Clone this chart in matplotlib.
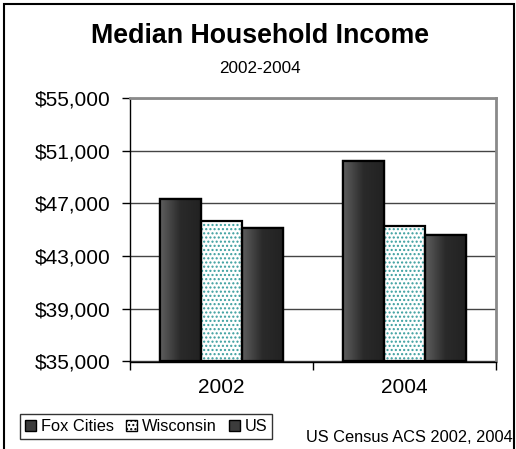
import numpy as np
import matplotlib.pyplot as plt
from matplotlib.patches import Rectangle, Patch
from matplotlib.colors import LinearSegmentedColormap

plt.rcParams['font.family'] = ['Liberation Sans', 'DejaVu Sans']

years = ['2002', '2004']
series = ['Fox Cities', 'Wisconsin', 'US']
fox_cities = [47300, 50200]
wisconsin = [45700, 45300]
us = [45100, 44600]
yticks = [35000, 39000, 43000, 47000, 51000, 55000]
source = 'US Census ACS 2002, 2004'

W, H = 516, 449
fig = plt.figure(figsize=(W / 100, H / 100), dpi=100)
ax = fig.add_axes([130 / W, 1 - 361.5 / H, 366 / W, 263.5 / H])

x = np.arange(len(years))
w = 0.224
base = yticks[0]  # bars start at the axis floor
dark = LinearSegmentedColormap.from_list('dark', ['#5e5e5e', '#2a2a2a', '#222222'])
grad = np.linspace(0, 1, 64).reshape(1, -1)
teal = '#3a9e9e'

# dark bars with a left-to-right shade
for vals, off in [(fox_cities, -w), (us, w)]:
    bars = ax.bar(x + off, np.array(vals) - base, w, bottom=base, color='#3a3a3a',
                  edgecolor='black', linewidth=1.6, zorder=2)
    for b in bars:
        x0, y0 = b.get_x(), b.get_y()
        im = ax.imshow(grad, cmap=dark, aspect='auto', zorder=2.5,
                       extent=[x0, x0 + b.get_width(), y0, y0 + b.get_height()])
        im.set_clip_path(b)
        ax.add_patch(Rectangle((x0, y0), b.get_width(), b.get_height(), fill=False,
                               edgecolor='black', linewidth=1.6, zorder=3))

# dotted Wisconsin bars
ax.bar(x, np.array(wisconsin) - base, w, bottom=base, color='white', edgecolor=teal,
       hatch='....', linewidth=0, zorder=2)
ax.bar(x, np.array(wisconsin) - base, w, bottom=base, fill=False, edgecolor='black',
       linewidth=1.6, zorder=3)

ax.set_xlim(-0.5, 1.5)
ax.set_ylim(35000, 55000)
ax.set_yticks(yticks)
ax.set_yticklabels(['${:,.0f}'.format(v) for v in yticks])
ax.yaxis.grid(True, color='#444444', linewidth=1)
ax.set_axisbelow(True)

ax.set_xticks([-0.5, 0.5, 1.5])
ax.set_xticklabels([])
ax.set_xticks(x, minor=True)
ax.set_xticklabels(years, minor=True)
ax.tick_params(axis='x', which='major', length=6, width=1, direction='out')
ax.tick_params(axis='x', which='minor', length=0, pad=12, labelsize=15)
ax.tick_params(axis='y', length=6, width=1, pad=8, labelsize=15)

for s in ['top', 'right']:
    ax.spines[s].set_color('#8a8a8a')
    ax.spines[s].set_linewidth(2)
for s in ['left', 'bottom']:
    ax.spines[s].set_color('black')
    ax.spines[s].set_linewidth(1)

fig.text(0.504, 1 - 36 / H, 'Median Household Income', fontsize=19.3,
         fontweight='bold', ha='center', va='center')
fig.text(0.504, 1 - 68.5 / H, '2002-2004', fontsize=12.3, ha='center', va='center')

handles = [Patch(facecolor='#3c3c3c', edgecolor='black'),
           Patch(facecolor='white', edgecolor='black', hatch='....'),
           Patch(facecolor='#3c3c3c', edgecolor='black')]
leg = fig.legend(handles, series, loc='lower left', bbox_to_anchor=(20 / W, 1 - 439 / H),
                 ncol=3, fontsize=11.8, frameon=True, fancybox=False, borderpad=0.3,
                 handlelength=0.7, handleheight=0.7, handletextpad=0.3,
                 columnspacing=0.7, borderaxespad=0)
leg.get_frame().set_edgecolor('black')
leg.get_frame().set_linewidth(1)

fig.text(513 / W, 1 - 437 / H, source, ha='right', va='center', fontsize=11.8)

fig.add_artist(Rectangle((4 / W, -0.1), 510 / W, (H - 3.5) / H + 0.1,
                         transform=fig.transFigure, fill=False, edgecolor='black', linewidth=1.5))

fig.savefig('out.png', dpi=100)
